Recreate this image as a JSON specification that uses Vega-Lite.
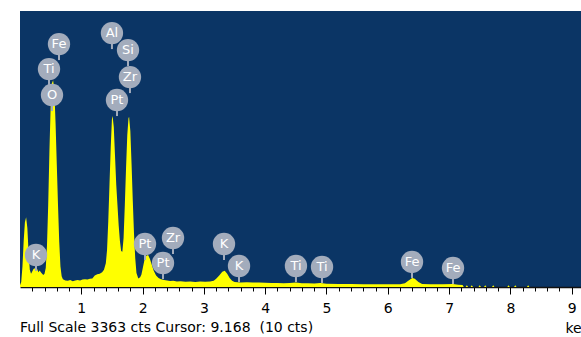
{
  "$schema": "https://vega.github.io/schema/vega-lite/v6.json",
  "autosize": "none",
  "width": 561,
  "height": 276,
  "padding": {"left": 20, "top": 11, "right": 0, "bottom": 50},
  "background": "white",
  "config": {
    "view": {"fill": "#0b3565", "stroke": null},
    "font": "DejaVu Sans"
  },
  "title": {
    "text": "Full Scale 3363 cts Cursor: 9.168\u00a0 (10 cts)",
    "orient": "bottom",
    "anchor": "start",
    "fontSize": 14,
    "fontWeight": "normal",
    "font": "DejaVu Sans",
    "color": "black",
    "offset": 0,
    "dy": -3,
    "baseline": "alphabetic"
  },
  "resolve": {"axis": {"x": "independent"}},
  "datasets": {
    "spectrum": [
      {"e": 0.00, "c": 20}, {"e": 0.02, "c": 60}, {"e": 0.04, "c": 250}, {"e": 0.06, "c": 560},
      {"e": 0.08, "c": 790}, {"e": 0.10, "c": 850}, {"e": 0.12, "c": 720}, {"e": 0.14, "c": 420},
      {"e": 0.16, "c": 210}, {"e": 0.18, "c": 160}, {"e": 0.20, "c": 190}, {"e": 0.22, "c": 220},
      {"e": 0.25, "c": 230}, {"e": 0.28, "c": 220}, {"e": 0.30, "c": 180}, {"e": 0.32, "c": 200},
      {"e": 0.35, "c": 170}, {"e": 0.38, "c": 145}, {"e": 0.40, "c": 160}, {"e": 0.42, "c": 230},
      {"e": 0.44, "c": 500}, {"e": 0.46, "c": 1000}, {"e": 0.48, "c": 1650}, {"e": 0.50, "c": 2200},
      {"e": 0.52, "c": 2480}, {"e": 0.54, "c": 2520}, {"e": 0.56, "c": 2400}, {"e": 0.58, "c": 2000},
      {"e": 0.60, "c": 1500}, {"e": 0.62, "c": 1000}, {"e": 0.64, "c": 550}, {"e": 0.66, "c": 250},
      {"e": 0.68, "c": 130}, {"e": 0.70, "c": 95}, {"e": 0.74, "c": 80}, {"e": 0.78, "c": 75},
      {"e": 0.82, "c": 85}, {"e": 0.86, "c": 70}, {"e": 0.90, "c": 80}, {"e": 0.94, "c": 85},
      {"e": 0.98, "c": 80}, {"e": 1.02, "c": 90}, {"e": 1.06, "c": 95}, {"e": 1.10, "c": 90},
      {"e": 1.14, "c": 100}, {"e": 1.18, "c": 105}, {"e": 1.22, "c": 140}, {"e": 1.26, "c": 155},
      {"e": 1.30, "c": 160}, {"e": 1.34, "c": 180}, {"e": 1.37, "c": 210}, {"e": 1.40, "c": 290},
      {"e": 1.42, "c": 450}, {"e": 1.44, "c": 800}, {"e": 1.46, "c": 1250}, {"e": 1.48, "c": 1700},
      {"e": 1.50, "c": 2050}, {"e": 1.51, "c": 2083}, {"e": 1.53, "c": 1950}, {"e": 1.55, "c": 1600},
      {"e": 1.57, "c": 1250}, {"e": 1.59, "c": 1000}, {"e": 1.61, "c": 750}, {"e": 1.63, "c": 560},
      {"e": 1.65, "c": 440}, {"e": 1.67, "c": 430}, {"e": 1.69, "c": 600}, {"e": 1.71, "c": 1000},
      {"e": 1.73, "c": 1450}, {"e": 1.75, "c": 1850}, {"e": 1.77, "c": 2060}, {"e": 1.78, "c": 2070},
      {"e": 1.80, "c": 1900}, {"e": 1.82, "c": 1500}, {"e": 1.84, "c": 1050}, {"e": 1.86, "c": 650},
      {"e": 1.88, "c": 350}, {"e": 1.90, "c": 170}, {"e": 1.93, "c": 105}, {"e": 1.96, "c": 120},
      {"e": 1.98, "c": 150}, {"e": 2.00, "c": 220}, {"e": 2.03, "c": 330}, {"e": 2.06, "c": 380},
      {"e": 2.09, "c": 390}, {"e": 2.12, "c": 340}, {"e": 2.15, "c": 270}, {"e": 2.18, "c": 200},
      {"e": 2.22, "c": 140}, {"e": 2.26, "c": 110}, {"e": 2.30, "c": 95}, {"e": 2.35, "c": 85},
      {"e": 2.40, "c": 80}, {"e": 2.45, "c": 72}, {"e": 2.50, "c": 75}, {"e": 2.56, "c": 68},
      {"e": 2.62, "c": 70}, {"e": 2.70, "c": 65}, {"e": 2.78, "c": 68}, {"e": 2.86, "c": 62},
      {"e": 2.94, "c": 66}, {"e": 3.02, "c": 64}, {"e": 3.10, "c": 66}, {"e": 3.16, "c": 75},
      {"e": 3.20, "c": 100}, {"e": 3.25, "c": 140}, {"e": 3.30, "c": 185}, {"e": 3.34, "c": 198},
      {"e": 3.38, "c": 160}, {"e": 3.42, "c": 110}, {"e": 3.46, "c": 75}, {"e": 3.50, "c": 60},
      {"e": 3.60, "c": 56}, {"e": 3.70, "c": 58}, {"e": 3.80, "c": 54}, {"e": 3.90, "c": 55},
      {"e": 4.00, "c": 52}, {"e": 4.10, "c": 50}, {"e": 4.20, "c": 49}, {"e": 4.30, "c": 46},
      {"e": 4.40, "c": 48}, {"e": 4.50, "c": 56}, {"e": 4.60, "c": 47}, {"e": 4.70, "c": 45},
      {"e": 4.80, "c": 44}, {"e": 4.90, "c": 50}, {"e": 5.00, "c": 40}, {"e": 5.20, "c": 38},
      {"e": 5.40, "c": 37}, {"e": 5.60, "c": 35}, {"e": 5.80, "c": 34}, {"e": 6.00, "c": 34},
      {"e": 6.20, "c": 35}, {"e": 6.28, "c": 45}, {"e": 6.34, "c": 80}, {"e": 6.40, "c": 110},
      {"e": 6.44, "c": 100}, {"e": 6.50, "c": 60}, {"e": 6.56, "c": 38}, {"e": 6.70, "c": 33},
      {"e": 6.90, "c": 32}, {"e": 7.06, "c": 36}, {"e": 7.15, "c": 28}, {"e": 7.22, "c": 25},
      {"e": 7.24, "c": 0}, {"e": 7.27, "c": 0}, {"e": 7.29, "c": 22}, {"e": 7.31, "c": 0},
      {"e": 7.35, "c": 0}, {"e": 7.37, "c": 22}, {"e": 7.39, "c": 0}, {"e": 7.48, "c": 0},
      {"e": 7.50, "c": 22}, {"e": 7.52, "c": 0}, {"e": 7.57, "c": 0}, {"e": 7.59, "c": 22},
      {"e": 7.61, "c": 0}, {"e": 7.70, "c": 0}, {"e": 7.72, "c": 20}, {"e": 7.74, "c": 0},
      {"e": 7.95, "c": 0}, {"e": 7.97, "c": 20}, {"e": 7.99, "c": 0}, {"e": 8.06, "c": 0},
      {"e": 8.08, "c": 20}, {"e": 8.10, "c": 0}, {"e": 8.27, "c": 0}, {"e": 8.29, "c": 20},
      {"e": 8.31, "c": 0}, {"e": 9.15, "c": 0}
    ],
    "labels": [
      {"el": "Fe", "e": 0.636, "c": 2960},
      {"el": "Ti", "e": 0.473, "c": 2655},
      {"el": "O", "e": 0.522, "c": 2339},
      {"el": "Al", "e": 1.50, "c": 3094},
      {"el": "Si", "e": 1.762, "c": 2887},
      {"el": "Zr", "e": 1.794, "c": 2558},
      {"el": "Pt", "e": 1.582, "c": 2278},
      {"el": "K", "e": 0.261, "c": 390},
      {"el": "Pt", "e": 2.039, "c": 524},
      {"el": "Zr", "e": 2.496, "c": 597},
      {"el": "Pt", "e": 2.333, "c": 292},
      {"el": "K", "e": 3.328, "c": 524},
      {"el": "K", "e": 3.573, "c": 256},
      {"el": "Ti", "e": 4.502, "c": 256},
      {"el": "Ti", "e": 4.927, "c": 244},
      {"el": "Fe", "e": 6.395, "c": 305},
      {"el": "Fe", "e": 7.064, "c": 231}
    ]
  },
  "layer": [
    {
      "data": {"name": "spectrum"},
      "mark": {"type": "area", "color": "#ffff00", "interpolate": "linear", "clip": true},
      "encoding": {
        "x": {
          "field": "e", "type": "quantitative",
          "scale": {"domain": [0, 9.152], "nice": false, "zero": false},
          "axis": {
            "orient": "bottom",
            "values": [0.2,0.4,0.6,0.8,1.2,1.4,1.6,1.8,2.2,2.4,2.6,2.8,3.2,3.4,3.6,3.8,4.2,4.4,4.6,4.8,5.2,5.4,5.6,5.8,6.2,6.4,6.6,6.8,7.2,7.4,7.6,7.8,8.2,8.4,8.6,8.8],
            "labels": false,
            "ticks": true,
            "tickSize": 4,
            "tickColor": "black",
            "tickWidth": 1,
            "domainColor": "#111111",
            "domainWidth": 1.5,
            "grid": false,
            "title": null
          }
        },
        "y": {
          "field": "c", "type": "quantitative",
          "scale": {"domain": [0, 3363], "nice": false},
          "axis": null
        }
      }
    },
    {
      "data": {"name": "labels"},
      "mark": {"type": "rule", "color": "#a3acbc", "strokeWidth": 2, "yOffset": 8, "y2Offset": 16},
      "encoding": {
        "x": {
          "field": "e", "type": "quantitative",
          "axis": {
            "orient": "bottom",
            "values": [1, 2, 3, 4, 5, 6, 7, 8, 9],
            "format": "d",
            "labelOverlap": false,
            "labelBound": false,
            "labelFlush": false,
            "ticks": true,
            "tickSize": 7,
            "tickColor": "black",
            "tickWidth": 1,
            "domain": false,
            "grid": false,
            "labelFont": "DejaVu Sans",
            "labelFontSize": 14,
            "labelColor": "black",
            "labelPadding": 7,
            "title": "keV",
            "titleFont": "DejaVu Sans",
            "titleFontSize": 14,
            "titleFontWeight": "normal",
            "titleColor": "black",
            "titleX": 545,
            "titleY": 45,
            "titleAlign": "left",
            "titleBaseline": "alphabetic",
            "titleAnchor": null
          }
        },
        "y": {"field": "c", "type": "quantitative"},
        "y2": {"field": "c"}
      }
    },
    {
      "data": {"name": "labels"},
      "mark": {"type": "point", "shape": "circle", "filled": true, "color": "#a3acbc", "opacity": 1, "size": 500},
      "encoding": {
        "x": {"field": "e", "type": "quantitative", "axis": null},
        "y": {"field": "c", "type": "quantitative"}
      }
    },
    {
      "data": {"name": "labels"},
      "mark": {"type": "text", "color": "white", "font": "DejaVu Sans", "fontSize": 13, "align": "center", "baseline": "middle"},
      "encoding": {
        "x": {"field": "e", "type": "quantitative", "axis": null},
        "y": {"field": "c", "type": "quantitative"},
        "text": {"field": "el"}
      }
    },
    {
      "mark": {"type": "text", "color": "#ffff00", "font": "DejaVu Sans", "fontSize": 13, "align": "right", "baseline": "middle"},
      "encoding": {
        "x": {"datum": 9.087, "axis": null},
        "y": {"datum": 3228},
        "text": {"value": "Spectrum"}
      }
    }
  ]
}
